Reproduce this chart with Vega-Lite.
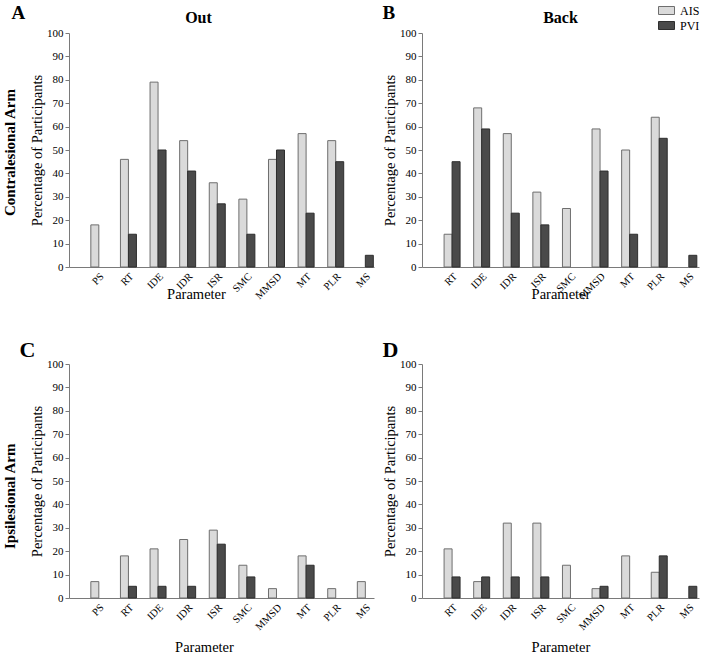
{
  "$schema": "https://vega.github.io/schema/vega-lite/v6.json",
  "padding": {"left": 2, "top": 2, "right": 0, "bottom": 0},
  "background": "white",
  "config": {
    "font": "Liberation Serif",
    "view": {"stroke": null},
    "axis": {
      "labelFont": "Liberation Serif",
      "labelFontSize": 11,
      "labelColor": "#000000",
      "titleFont": "Liberation Serif",
      "titleFontSize": 14.5,
      "titleFontWeight": "normal",
      "titleColor": "#000000",
      "domainColor": "#7a7a7a",
      "tickColor": "#7a7a7a",
      "grid": false
    },
    "axisX": {"labelAngle": -45, "ticks": false, "labelPadding": 4, "titlePadding": 8, "labelFontSize": 10.5},
    "axisY": {"tickSize": 4, "labelPadding": 2, "titlePadding": 2},
    "title": {"font": "Liberation Serif", "color": "#000000", "fontWeight": "bold", "baseline": "alphabetic"},
    "legend": {
      "orient": "none",
      "legendX": 589,
      "legendY": -31,
      "title": null,
      "labelFont": "Liberation Serif",
      "labelFontSize": 12,
      "labelColor": "#000000",
      "symbolType": "M-1,-0.5H1V0.5H-1Z",
      "symbolSize": 256,
      "symbolStrokeWidth": 1,
      "rowPadding": -4,
      "labelOffset": 5,
      "padding": 0
    }
  },
  "datasets": {
    "all": [
      {"Arm": "Contralesional", "Direction": "Out", "Parameter": "PS", "Group": "AIS", "Value": 18},
      {"Arm": "Contralesional", "Direction": "Out", "Parameter": "RT", "Group": "AIS", "Value": 46},
      {"Arm": "Contralesional", "Direction": "Out", "Parameter": "RT", "Group": "PVI", "Value": 14},
      {"Arm": "Contralesional", "Direction": "Out", "Parameter": "IDE", "Group": "AIS", "Value": 79},
      {"Arm": "Contralesional", "Direction": "Out", "Parameter": "IDE", "Group": "PVI", "Value": 50},
      {"Arm": "Contralesional", "Direction": "Out", "Parameter": "IDR", "Group": "AIS", "Value": 54},
      {"Arm": "Contralesional", "Direction": "Out", "Parameter": "IDR", "Group": "PVI", "Value": 41},
      {"Arm": "Contralesional", "Direction": "Out", "Parameter": "ISR", "Group": "AIS", "Value": 36},
      {"Arm": "Contralesional", "Direction": "Out", "Parameter": "ISR", "Group": "PVI", "Value": 27},
      {"Arm": "Contralesional", "Direction": "Out", "Parameter": "SMC", "Group": "AIS", "Value": 29},
      {"Arm": "Contralesional", "Direction": "Out", "Parameter": "SMC", "Group": "PVI", "Value": 14},
      {"Arm": "Contralesional", "Direction": "Out", "Parameter": "MMSD", "Group": "AIS", "Value": 46},
      {"Arm": "Contralesional", "Direction": "Out", "Parameter": "MMSD", "Group": "PVI", "Value": 50},
      {"Arm": "Contralesional", "Direction": "Out", "Parameter": "MT", "Group": "AIS", "Value": 57},
      {"Arm": "Contralesional", "Direction": "Out", "Parameter": "MT", "Group": "PVI", "Value": 23},
      {"Arm": "Contralesional", "Direction": "Out", "Parameter": "PLR", "Group": "AIS", "Value": 54},
      {"Arm": "Contralesional", "Direction": "Out", "Parameter": "PLR", "Group": "PVI", "Value": 45},
      {"Arm": "Contralesional", "Direction": "Out", "Parameter": "MS", "Group": "PVI", "Value": 5},

      {"Arm": "Contralesional", "Direction": "Back", "Parameter": "RT", "Group": "AIS", "Value": 14},
      {"Arm": "Contralesional", "Direction": "Back", "Parameter": "RT", "Group": "PVI", "Value": 45},
      {"Arm": "Contralesional", "Direction": "Back", "Parameter": "IDE", "Group": "AIS", "Value": 68},
      {"Arm": "Contralesional", "Direction": "Back", "Parameter": "IDE", "Group": "PVI", "Value": 59},
      {"Arm": "Contralesional", "Direction": "Back", "Parameter": "IDR", "Group": "AIS", "Value": 57},
      {"Arm": "Contralesional", "Direction": "Back", "Parameter": "IDR", "Group": "PVI", "Value": 23},
      {"Arm": "Contralesional", "Direction": "Back", "Parameter": "ISR", "Group": "AIS", "Value": 32},
      {"Arm": "Contralesional", "Direction": "Back", "Parameter": "ISR", "Group": "PVI", "Value": 18},
      {"Arm": "Contralesional", "Direction": "Back", "Parameter": "SMC", "Group": "AIS", "Value": 25},
      {"Arm": "Contralesional", "Direction": "Back", "Parameter": "MMSD", "Group": "AIS", "Value": 59},
      {"Arm": "Contralesional", "Direction": "Back", "Parameter": "MMSD", "Group": "PVI", "Value": 41},
      {"Arm": "Contralesional", "Direction": "Back", "Parameter": "MT", "Group": "AIS", "Value": 50},
      {"Arm": "Contralesional", "Direction": "Back", "Parameter": "MT", "Group": "PVI", "Value": 14},
      {"Arm": "Contralesional", "Direction": "Back", "Parameter": "PLR", "Group": "AIS", "Value": 64},
      {"Arm": "Contralesional", "Direction": "Back", "Parameter": "PLR", "Group": "PVI", "Value": 55},
      {"Arm": "Contralesional", "Direction": "Back", "Parameter": "MS", "Group": "PVI", "Value": 5},

      {"Arm": "Ipsilesional", "Direction": "Out", "Parameter": "PS", "Group": "AIS", "Value": 7},
      {"Arm": "Ipsilesional", "Direction": "Out", "Parameter": "RT", "Group": "AIS", "Value": 18},
      {"Arm": "Ipsilesional", "Direction": "Out", "Parameter": "RT", "Group": "PVI", "Value": 5},
      {"Arm": "Ipsilesional", "Direction": "Out", "Parameter": "IDE", "Group": "AIS", "Value": 21},
      {"Arm": "Ipsilesional", "Direction": "Out", "Parameter": "IDE", "Group": "PVI", "Value": 5},
      {"Arm": "Ipsilesional", "Direction": "Out", "Parameter": "IDR", "Group": "AIS", "Value": 25},
      {"Arm": "Ipsilesional", "Direction": "Out", "Parameter": "IDR", "Group": "PVI", "Value": 5},
      {"Arm": "Ipsilesional", "Direction": "Out", "Parameter": "ISR", "Group": "AIS", "Value": 29},
      {"Arm": "Ipsilesional", "Direction": "Out", "Parameter": "ISR", "Group": "PVI", "Value": 23},
      {"Arm": "Ipsilesional", "Direction": "Out", "Parameter": "SMC", "Group": "AIS", "Value": 14},
      {"Arm": "Ipsilesional", "Direction": "Out", "Parameter": "SMC", "Group": "PVI", "Value": 9},
      {"Arm": "Ipsilesional", "Direction": "Out", "Parameter": "MMSD", "Group": "AIS", "Value": 4},
      {"Arm": "Ipsilesional", "Direction": "Out", "Parameter": "MT", "Group": "AIS", "Value": 18},
      {"Arm": "Ipsilesional", "Direction": "Out", "Parameter": "MT", "Group": "PVI", "Value": 14},
      {"Arm": "Ipsilesional", "Direction": "Out", "Parameter": "PLR", "Group": "AIS", "Value": 4},
      {"Arm": "Ipsilesional", "Direction": "Out", "Parameter": "MS", "Group": "AIS", "Value": 7},

      {"Arm": "Ipsilesional", "Direction": "Back", "Parameter": "RT", "Group": "AIS", "Value": 21},
      {"Arm": "Ipsilesional", "Direction": "Back", "Parameter": "RT", "Group": "PVI", "Value": 9},
      {"Arm": "Ipsilesional", "Direction": "Back", "Parameter": "IDE", "Group": "AIS", "Value": 7},
      {"Arm": "Ipsilesional", "Direction": "Back", "Parameter": "IDE", "Group": "PVI", "Value": 9},
      {"Arm": "Ipsilesional", "Direction": "Back", "Parameter": "IDR", "Group": "AIS", "Value": 32},
      {"Arm": "Ipsilesional", "Direction": "Back", "Parameter": "IDR", "Group": "PVI", "Value": 9},
      {"Arm": "Ipsilesional", "Direction": "Back", "Parameter": "ISR", "Group": "AIS", "Value": 32},
      {"Arm": "Ipsilesional", "Direction": "Back", "Parameter": "ISR", "Group": "PVI", "Value": 9},
      {"Arm": "Ipsilesional", "Direction": "Back", "Parameter": "SMC", "Group": "AIS", "Value": 14},
      {"Arm": "Ipsilesional", "Direction": "Back", "Parameter": "MMSD", "Group": "AIS", "Value": 4},
      {"Arm": "Ipsilesional", "Direction": "Back", "Parameter": "MMSD", "Group": "PVI", "Value": 5},
      {"Arm": "Ipsilesional", "Direction": "Back", "Parameter": "MT", "Group": "AIS", "Value": 18},
      {"Arm": "Ipsilesional", "Direction": "Back", "Parameter": "PLR", "Group": "AIS", "Value": 11},
      {"Arm": "Ipsilesional", "Direction": "Back", "Parameter": "PLR", "Group": "PVI", "Value": 18},
      {"Arm": "Ipsilesional", "Direction": "Back", "Parameter": "MS", "Group": "PVI", "Value": 5}
    ]
  },
  "spacing": 37,
  "vconcat": [
    {
      "title": {"text": "Contralesional Arm", "orient": "left", "anchor": "middle", "fontSize": 15, "offset": -6},
      "spacing": 8,
      "hconcat": [
        {
          "title": {"text": "A", "anchor": "start", "frame": "bounds", "fontSize": 19, "dx": -18, "offset": -13},
          "vconcat": [
            {
              "title": {"text": "Out", "anchor": "middle", "frame": "group", "fontSize": 16, "offset": 1, "dx": -23},
              "width": 305,
              "height": 234,
              "data": {"name": "all"},
              "transform": [{"filter": "datum.Arm === 'Contralesional' && datum.Direction === 'Out'"}],
              "mark": {"type": "bar", "strokeWidth": 1},
              "encoding": {
                "x": {"field": "Parameter", "type": "nominal", "sort": ["PS", "RT", "IDE", "IDR", "ISR", "SMC", "MMSD", "MT", "PLR", "MS"],
                  "scale": {"paddingInner": 0.46, "paddingOuter": 0.38, "align": 0.97},
                  "axis": {"title": "Parameter", "titleX": 127, "titlePadding": -14, "labelAngle": -45}},
                "xOffset": {"field": "Group", "type": "nominal", "sort": ["AIS", "PVI"], "scale": {"domain": ["AIS", "PVI"], "paddingInner": 0, "paddingOuter": 0}},
                "y": {"field": "Value", "type": "quantitative", "scale": {"domain": [0, 100]},
                  "axis": {"title": "Percentage of Participants", "values": [0, 10, 20, 30, 40, 50, 60, 70, 80, 90, 100]}},
                "fill": {"field": "Group", "type": "nominal", "scale": {"domain": ["AIS", "PVI"], "range": ["#dadada", "#4a4a4a"]}},
                "stroke": {"field": "Group", "type": "nominal", "scale": {"domain": ["AIS", "PVI"], "range": ["#6e6e6e", "#2e2e2e"]}}
              }
            }
          ]
        },
        {
          "title": {"text": "B", "anchor": "start", "frame": "bounds", "fontSize": 19, "offset": -13},
          "vconcat": [
            {
              "title": {"text": "Back", "anchor": "middle", "frame": "group", "fontSize": 16, "offset": 1},
              "width": 277,
              "height": 234,
              "data": {"name": "all"},
              "transform": [{"filter": "datum.Arm === 'Contralesional' && datum.Direction === 'Back'"}],
              "mark": {"type": "bar", "strokeWidth": 1},
              "encoding": {
                "x": {"field": "Parameter", "type": "nominal", "sort": ["RT", "IDE", "IDR", "ISR", "SMC", "MMSD", "MT", "PLR", "MS"],
                  "scale": {"paddingInner": 0.46, "paddingOuter": 0.41, "align": 0.91},
                  "axis": {"title": "Parameter", "titlePadding": -14, "labelAngle": -45}},
                "xOffset": {"field": "Group", "type": "nominal", "sort": ["AIS", "PVI"], "scale": {"domain": ["AIS", "PVI"], "paddingInner": 0, "paddingOuter": 0}},
                "y": {"field": "Value", "type": "quantitative", "scale": {"domain": [0, 100]},
                  "axis": {"title": "Percentage of Participants", "values": [0, 10, 20, 30, 40, 50, 60, 70, 80, 90, 100]}},
                "fill": {"field": "Group", "type": "nominal", "scale": {"domain": ["AIS", "PVI"], "range": ["#dadada", "#4a4a4a"]}},
                "stroke": {"field": "Group", "type": "nominal", "scale": {"domain": ["AIS", "PVI"], "range": ["#6e6e6e", "#2e2e2e"]}}
              }
            }
          ]
        }
      ]
    },
    {
      "title": {"text": "Ipsilesional Arm", "orient": "left", "anchor": "middle", "fontSize": 15, "offset": 2},
      "spacing": 8,
      "hconcat": [
        {
          "title": {"text": "C", "anchor": "start", "frame": "bounds", "fontSize": 22, "dx": -10, "offset": -4},
          "width": 305,
          "height": 234,
          "data": {"name": "all"},
          "transform": [{"filter": "datum.Arm === 'Ipsilesional' && datum.Direction === 'Out'"}],
          "mark": {"type": "bar", "strokeWidth": 1},
          "encoding": {
            "x": {"field": "Parameter", "type": "nominal", "sort": ["PS", "RT", "IDE", "IDR", "ISR", "SMC", "MMSD", "MT", "PLR", "MS"],
              "scale": {"paddingInner": 0.46, "paddingOuter": 0.38, "align": 0.97},
              "axis": {"title": "Parameter", "titleX": 135, "labelAngle": -45}},
            "xOffset": {"field": "Group", "type": "nominal", "sort": ["AIS", "PVI"], "scale": {"domain": ["AIS", "PVI"], "paddingInner": 0, "paddingOuter": 0}},
            "y": {"field": "Value", "type": "quantitative", "scale": {"domain": [0, 100]},
              "axis": {"title": "Percentage of Participants", "values": [0, 10, 20, 30, 40, 50, 60, 70, 80, 90, 100]}},
            "fill": {"field": "Group", "type": "nominal", "scale": {"domain": ["AIS", "PVI"], "range": ["#dadada", "#4a4a4a"]}},
            "stroke": {"field": "Group", "type": "nominal", "scale": {"domain": ["AIS", "PVI"], "range": ["#6e6e6e", "#2e2e2e"]}}
          }
        },
        {
          "title": {"text": "D", "anchor": "start", "frame": "bounds", "fontSize": 22, "offset": -4},
          "width": 277,
          "height": 234,
          "data": {"name": "all"},
          "transform": [{"filter": "datum.Arm === 'Ipsilesional' && datum.Direction === 'Back'"}],
          "mark": {"type": "bar", "strokeWidth": 1},
          "encoding": {
            "x": {"field": "Parameter", "type": "nominal", "sort": ["RT", "IDE", "IDR", "ISR", "SMC", "MMSD", "MT", "PLR", "MS"],
              "scale": {"paddingInner": 0.46, "paddingOuter": 0.41, "align": 0.91},
              "axis": {"title": "Parameter", "labelAngle": -45}},
            "xOffset": {"field": "Group", "type": "nominal", "sort": ["AIS", "PVI"], "scale": {"domain": ["AIS", "PVI"], "paddingInner": 0, "paddingOuter": 0}},
            "y": {"field": "Value", "type": "quantitative", "scale": {"domain": [0, 100]},
              "axis": {"title": "Percentage of Participants", "values": [0, 10, 20, 30, 40, 50, 60, 70, 80, 90, 100]}},
            "fill": {"field": "Group", "type": "nominal", "scale": {"domain": ["AIS", "PVI"], "range": ["#dadada", "#4a4a4a"]}},
            "stroke": {"field": "Group", "type": "nominal", "scale": {"domain": ["AIS", "PVI"], "range": ["#6e6e6e", "#2e2e2e"]}}
          }
        }
      ]
    }
  ]
}
